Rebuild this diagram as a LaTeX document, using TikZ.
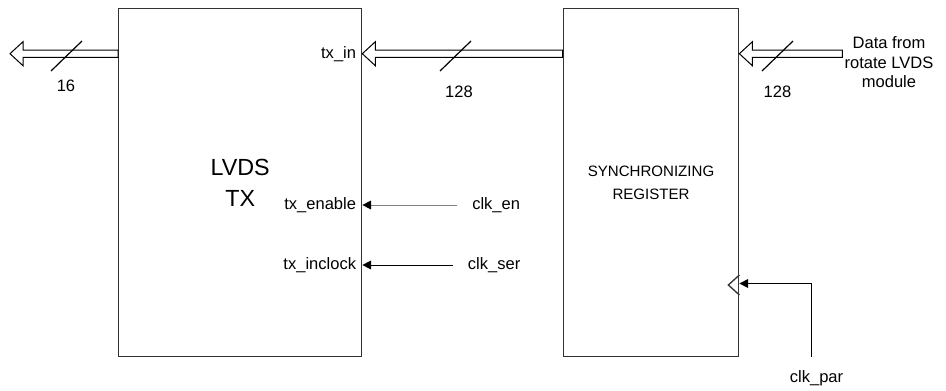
\documentclass[tikz,border=0pt]{standalone}
\usepackage{fontspec}
\setmainfont{Liberation Sans}
\usetikzlibrary{arrows.meta,positioning,calc}

% hollow bus arrow: #1 = tail, #2 = tip (pointing left)
\newcommand{\busarrow}[2]{%
  \draw[busline] (#2) -- ++(13,-12) -- ++(0,8.35) -- ($(#1)+(0,-3.65)$)
    -- ($(#1)+(0,3.65)$) -- ($(#2)+(13,3.65)$) -- ++(0,8.35) -- cycle;}

\begin{document}
\begin{tikzpicture}[
	x=0.75pt, y=-0.75pt,
	font=\fontsize{12.4}{15}\selectfont,
	>={Triangle[length=6.5pt,width=6.5pt]},
	blk/.style={rectangle, draw=black!80, line width=1pt, anchor=north west, minimum height=261pt, align=center},
	port/.style={anchor=east, inner sep=0pt, xshift=-4.5pt},
	src/.style={anchor=west, inner sep=0pt},
	busline/.style={draw=black, line width=0.75pt, fill=white},
	slashline/.style={line width=0.9pt},
	sig/.style={->, line width=0.75pt, shorten <=11pt},
]
\useasboundingbox (0,0) rectangle (946,390);
\coordinate (busy) at (0,53.7);

\node[blk, minimum width=182.25pt, font=\fontsize{17.5}{23}\selectfont] (lvdstx) at (118,8) {LVDS\\TX};
\node[blk, minimum width=131.5pt, font=\fontsize{11.3}{17}\selectfont] (syncreg) at (562.7,8) {SYNCHRONIZING\\REGISTER};

\node[port] (txin) at (lvdstx.east |- busy) {tx\_in};
\node[port] (txenable) at (lvdstx.east |- 0,205) {tx\_enable};
\node[port] (txinclock) at (lvdstx.east |- 0,265) {tx\_inclock};

\node[align=center, inner sep=1.5pt, font=\fontsize{12.4}{14.6}\selectfont] (datain) at (889,62.5) {Data from\\rotate LVDS\\module};
\node[src] (clken) at (472,205) {clk\_en};
\node[src] (clkser) at (467.7,265) {clk\_ser};
\node[anchor=north] (clkpar) at (816.5,366) {clk\_par};
\coordinate (out16) at (10,53.7);
\coordinate (parsrc) at (811,357);
\coordinate (clkin) at (syncreg.east |- 0,283.5);

% buses
\busarrow{lvdstx.west |- busy}{out16}
\busarrow{syncreg.west |- busy}{lvdstx.east |- busy}
\busarrow{datain.west |- busy}{syncreg.east |- busy}
\draw[slashline] (51,71) -- (82,41);
\draw[slashline] (440,71) -- (471,41);
\draw[slashline] (762,71) -- (793,41);
\node (w16) at (66,86) {16};
\node (w128a) at (459,91.5) {128};
\node (w128b) at (777.5,92) {128};

% control signals
\draw[sig, black!50, -{Triangle[length=6.5pt,width=6.5pt,black]}] (clken) -- (lvdstx.east |- clken);
\draw[sig] (clkser) -- (lvdstx.east |- clkser);

% clock input
\draw[draw=black!80, line width=1pt] (syncreg.east |- 0,275) -- ++(-11,10) -- ++(11,10);
\draw[->, line width=0.75pt] (parsrc) |- (clkin);
\end{tikzpicture}
\end{document}
